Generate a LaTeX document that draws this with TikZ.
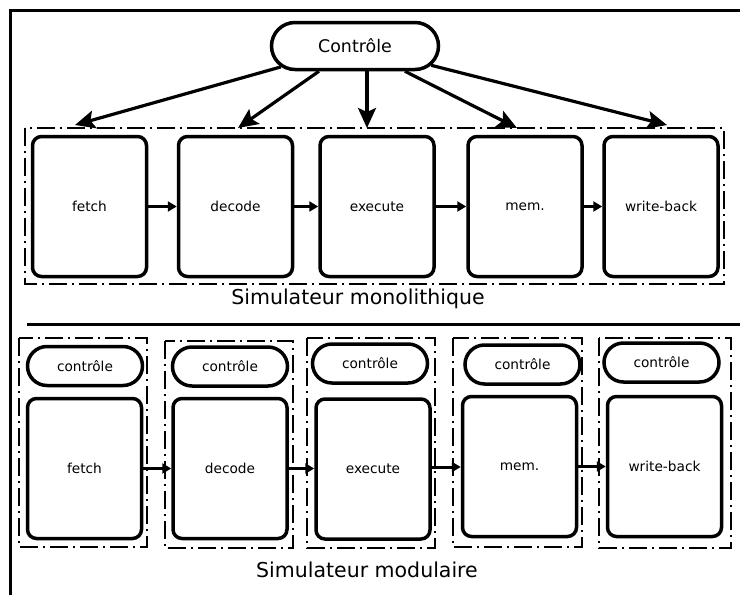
\documentclass[tikz,border=0pt]{standalone}
\usepackage{fontspec}
\setmainfont{DejaVu Sans}
\usetikzlibrary{arrows.meta,shapes.misc}
\begin{document}
\begin{tikzpicture}[x=1pt,y=-1pt,
  stage/.style={draw,line width=3.5pt,rounded corners=9pt,minimum width=114pt,minimum height=140pt,inner sep=0pt,font=\fontsize{13.7}{16}\selectfont},
  pill/.style={draw,line width=3.5pt,rounded rectangle,minimum width=115pt,minimum height=39pt,inner sep=0pt,font=\fontsize{13.7}{16}\selectfont},
  bigpill/.style={pill,minimum width=167pt,minimum height=47pt,font=\fontsize{17.4}{20}\selectfont},
  dashframe/.style={line width=1.8pt,dash pattern=on 18pt off 5pt on 2pt off 5pt},
  ctrlarrow/.style={line width=3.2pt,-{Stealth[length=20pt,width=18pt,inset=4pt]}},
  flow/.style={line width=3pt,-{Triangle[length=9pt,width=10pt]}},
  capt/.style={font=\fontsize{20.5}{24}\selectfont}
]
\useasboundingbox (0,0) rectangle (740,595);
% outer frame
\draw[line width=3pt] (740,10) -- (10,10) -- (10,595);
% ---------- monolithic ----------
\node[bigpill] (ctrl) at (355,46) {Contrôle};
\draw[dashframe] (25,128) rectangle (724,284);
\node[stage] (f1) at (89.5,206.5) {fetch};
\node[stage] (d1) at (235.5,206.5) {decode};
\node[stage] (e1) at (377,206.5) {execute};
\node[stage] (m1) at (525,206.5) {mem.};
\node[stage] (w1) at (661,206.5) {write-back};
\coordinate (tf) at (75,125);
\coordinate (td) at (238,128);
\coordinate (te) at (367,128);
\coordinate (tm) at (517,128);
\coordinate (tw) at (667,125);
\draw[ctrlarrow] (ctrl) -- (tf);
\draw[ctrlarrow] (ctrl) -- (td);
\draw[ctrlarrow] (ctrl.south -| te) -- (te);
\draw[ctrlarrow] (ctrl) -- (tm);
\draw[ctrlarrow] (ctrl) -- (tw);
\draw[flow] (f1) -- (d1);
\draw[flow] (d1) -- (e1);
\draw[flow] (e1) -- (m1);
\draw[flow] (m1) -- (w1);
\node[capt] (mono) at (358,299) {Simulateur monolithique};
% separator
\draw[line width=3pt] (27,324) -- (740,324);
% ---------- modular ----------
\draw[dashframe] (19,338) rectangle (147,547);
\draw[dashframe] (165,341) rectangle (293,548);
\draw[dashframe] (307,338) rectangle (435,548);
\draw[dashframe] (453,338) rectangle (582,547);
\draw[dashframe] (599,338) rectangle (731,548);
\node[pill] (c1) at (85,366) {contrôle};
\node[pill] (c2) at (230,366.5) {contrôle};
\node[pill] (c3) at (370,363.5) {contrôle};
\node[pill] (c4) at (522.5,364.5) {contrôle};
\node[pill] (c5) at (661.5,362.5) {contrôle};
\node[stage] (f2) at (84.5,468.5) {fetch};
\node[stage] (d2) at (230,468.5) {decode};
\node[stage] (e2) at (373,469) {execute};
\node[stage] (m2) at (519.5,466.5) {mem.};
\node[stage] (w2) at (664.5,466.5) {write-back};
\draw[flow] (f2.east) -- (f2.east -| d2.west);
\draw[flow] (d2.east) -- (d2.east -| e2.west);
\draw[flow] (e2.east |- 0,467) -- (m2.west |- 0,467);
\draw[flow] (m2.east) -- (m2.east -| w2.west);
\node[capt] (modu) at (367,570) {Simulateur modulaire};
\end{tikzpicture}
\end{document}
